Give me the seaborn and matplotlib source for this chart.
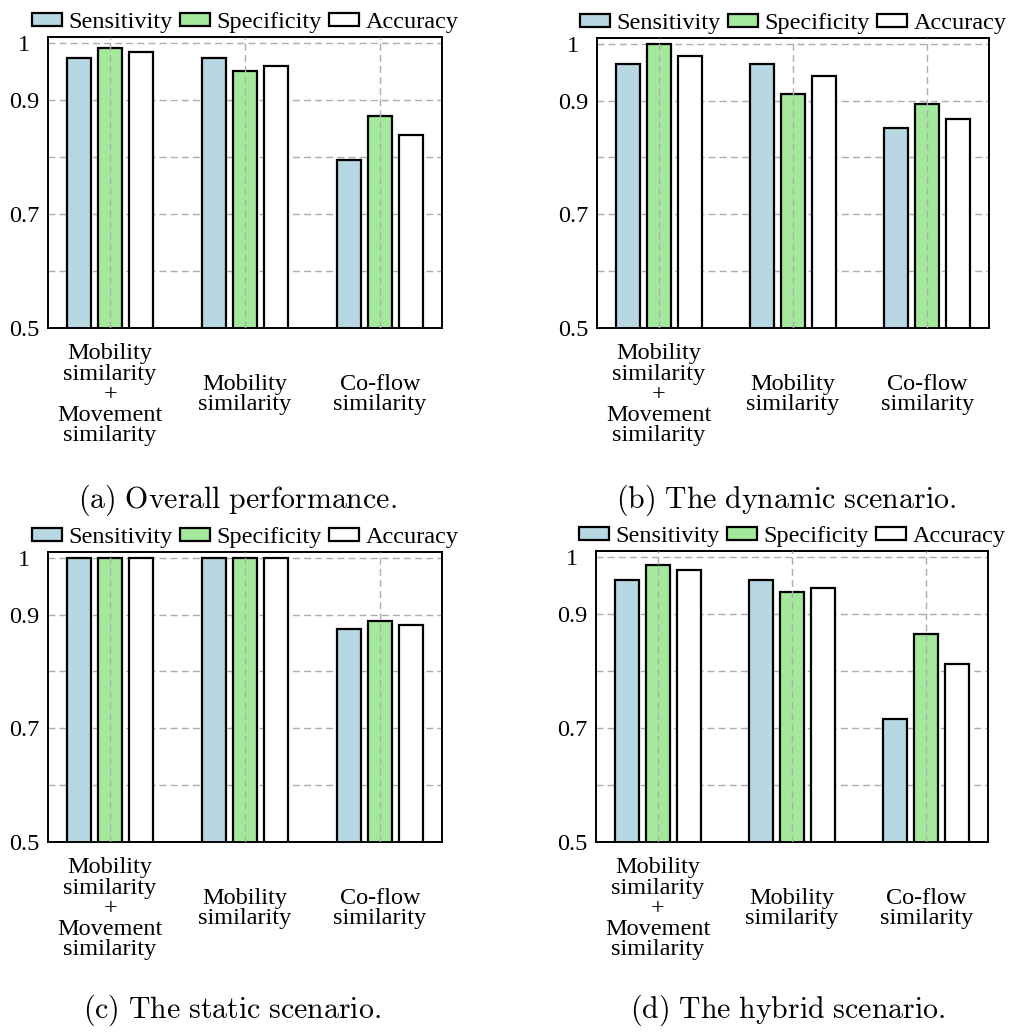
import matplotlib
matplotlib.use("Agg")
import matplotlib.pyplot as plt
import seaborn as sns
import pandas as pd

# Metric names and methods compared in every panel
metrics = ["Sensitivity", "Specificity", "Accuracy"]
methods = ["Mobility\nsimilarity\n+\nMovement\nsimilarity",
           "Mobility\nsimilarity",
           "Co-flow\nsimilarity"]

# Scores per method (rows follow `methods`, columns follow `metrics`)
overall = [[0.973, 0.990, 0.983],
           [0.973, 0.950, 0.960],
           [0.795, 0.872, 0.839]]
dynamic = [[0.965, 1.000, 0.979],
           [0.965, 0.912, 0.944],
           [0.851, 0.894, 0.868]]
static = [[1.000, 1.000, 1.000],
          [1.000, 1.000, 1.000],
          [0.875, 0.888, 0.882]]
hybrid = [[0.959, 0.986, 0.977],
          [0.959, 0.938, 0.946],
          [0.716, 0.864, 0.812]]

captions = ["(a) Overall performance.", "(b) The dynamic scenario.",
            "(c) The static scenario.", "(d) The hybrid scenario."]
panels = [overall, dynamic, static, hybrid]

colors = ["#B7D7E2", "#A4E89C", "#FFFFFF"]

sns.set_theme(style="white")
plt.rcParams["font.family"] = ["Liberation Serif", "DejaVu Serif"]
plt.rcParams["mathtext.fontset"] = "cm"
plt.rcParams["text.color"] = "black"
plt.rcParams["xtick.color"] = "black"
plt.rcParams["ytick.color"] = "black"
plt.rcParams["axes.labelcolor"] = "black"

fig = plt.figure(figsize=(10.11, 10.34), dpi=100)

W, H = 1011, 1034
# axes boxes in pixels: left, top, right, bottom
boxes = [(48, 37, 442, 328), (597, 38, 989, 328),
         (48, 552, 442, 842), (596, 551, 988, 842)]
caption_pos = [(237, 500), (786, 500), (232, 1010), (788, 1010)]

for vals, cap, box, cpos in zip(panels, captions, boxes, caption_pos):
    l, t, r, b = box
    ax = fig.add_axes([l / W, 1 - b / H, (r - l) / W, (b - t) / H])
    rows = []
    for m, row in zip(methods, vals):
        for met, v in zip(metrics, row):
            rows.append({"method": m, "metric": met, "score": v})
    df = pd.DataFrame(rows)
    sns.barplot(data=df, x="method", y="score", hue="metric",
                order=methods, hue_order=metrics, palette=colors,
                width=0.69, gap=0.226, edgecolor="black", linewidth=1.6,
                saturation=1, ax=ax, legend=True)

    ax.set_ylim(0.5, 1.01)
    ax.set_xlim(-0.46, 2.46)
    ax.set_yticks([0.5, 0.6, 0.7, 0.8, 0.9, 1.0])
    ax.set_yticklabels(["0.5", "", "0.7", "", "0.9", "1"])
    ax.set_xlabel("")
    ax.set_ylabel("")

    ax.set_axisbelow(True)
    ax.grid(True, axis="both", color="#adadad", linestyle=(0, (5, 3)),
            linewidth=1.0)
    # vertical guide lines sit over the bars
    ax.xaxis.set_zorder(2.5)

    for s in ax.spines.values():
        s.set_visible(True)
        s.set_color("black")
        s.set_linewidth(1.4)

    ax.tick_params(axis="y", length=0, pad=17.3, labelsize=17.5,
                   labelcolor="black")
    ax.tick_params(axis="x", length=0, pad=48, labelsize=17.5,
                   labelcolor="black")
    for lab in ax.get_yticklabels():
        lab.set_horizontalalignment("center")
    for lab in ax.get_xticklabels():
        lab.set_verticalalignment("center")
        lab.set_linespacing(0.97)

    handles, labels = ax.get_legend_handles_labels()
    ax.legend(handles, labels, loc="lower center", bbox_to_anchor=(0.5, 1.0),
              ncol=3, frameon=False, fontsize=17.5, borderaxespad=0.05,
              borderpad=0.1, handlelength=1.25, handleheight=0.45,
              handletextpad=0.25, columnspacing=0.3, labelcolor="black")

    fig.text(cpos[0] / W, 1 - cpos[1] / H,
             r"$\mathrm{" + cap.replace(" ", r"\ ") + "}$",
             ha="center", va="center", fontsize=21.5, color="black")

fig.savefig("out.png", dpi=100)
